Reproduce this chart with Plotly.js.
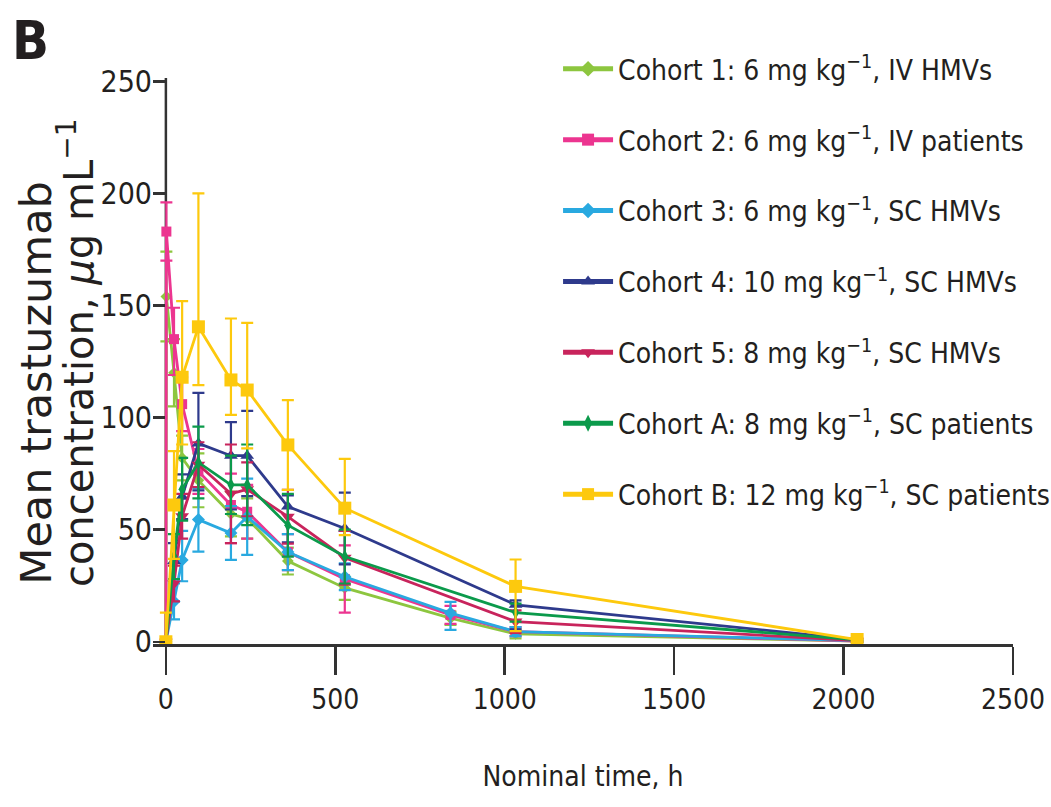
<!DOCTYPE html>
<html>
<head>
<meta charset="utf-8">
<script src="https://cdn.plot.ly/plotly-3.0.1.min.js"></script>
<style>html,body{margin:0;padding:0;background:#fff;}#chart{width:1051px;height:807px;}</style>
</head>
<body>
<div id="chart"></div>
<script>
// Nominal sampling times (h)
const timesIV = [0, 1.5, 24, 48, 96, 192, 240, 360, 528, 840, 1032, 2040];
const timesSC = [0, 24, 48, 96, 192, 240, 360, 528, 1032, 2040];
const timesC3 = [0, 24, 48, 96, 192, 240, 360, 528, 840, 1032, 2040];

// Series names
const names = [
  "Cohort 1: 6 mg kg<sup>−1</sup>, IV HMVs",
  "Cohort 2: 6 mg kg<sup>−1</sup>, IV patients",
  "Cohort 3: 6 mg kg<sup>−1</sup>, SC HMVs",
  "Cohort 4: 10 mg kg<sup>−1</sup>, SC HMVs",
  "Cohort 5: 8 mg kg<sup>−1</sup>, SC HMVs",
  "Cohort A: 8 mg kg<sup>−1</sup>, SC patients",
  "Cohort B: 12 mg kg<sup>−1</sup>, SC patients"
];

// Mean concentrations (µg/mL) and error bars (up / down)
const c1 = [0, 154, 120, 82, 72, 57, 55, 36, 24, 10.5, 3.5, 0.3];
const c1Up = [0, 20, 15, 10, 12, 10, 9, 6, 5, 3, 2, 0.3];
const c1Dn = [0, 20, 15, 10, 12, 10, 9, 6, 5.3, 3, 2, 0.3];

const c2 = [0, 183, 135, 106, 76, 61, 58, 40, 28, 12, 4.5, 0.3];
const c2Up = [0, 13, 14, 12, 10, 14, 12, 8, 15, 4, 2, 0.3];
const c2Dn = [0, 13, 16, 12, 10, 17, 12, 8, 15, 4, 2, 0.3];

const c3 = [0, 18, 36.5, 54.5, 48.5, 55.8, 40, 29, 12.8, 4.5, 0.5];
const c3Up = [0, 8, 13, 14, 12, 17, 8, 6, 5, 2, 0.3];
const c3Dn = [0, 8, 9.5, 14.3, 12, 17, 8, 6, 7.5, 2, 0.3];

const c4 = [0, 36, 64.7, 88.5, 83, 83, 60.3, 50.5, 16.5, 1];
const c4Up = [0, 8, 10, 22.5, 15, 20, 5, 16, 2, 0.3];
const c4Dn = [0, 8, 10, 21, 24, 18, 16, 16, 11, 0.3];

const c5 = [0, 26, 56, 79, 66, 68, 55.8, 37.5, 9, 0.5];
const c5Up = [0, 8, 10, 10, 22, 12, 12, 12, 5, 0.3];
const c5Dn = [0, 8, 10, 10, 22, 12, 12, 12, 5, 0.3];

const cA = [0, 38, 68, 80, 70, 70, 52, 38, 13, 0.8];
const cAUp = [0, 10, 14, 16, 13, 18, 14, 12, 4, 0.3];
const cADn = [0, 10, 14, 16, 13, 18, 14, 12, 4, 0.3];

const cB = [0, 61, 118, 140.5, 116.8, 112.3, 87.8, 59.6, 24.7, 1];
const cBUp = [13, 24, 34, 59.5, 27.4, 30, 20, 22, 12, 0];
const cBDn = [0, 24, 30, 26, 15.6, 26, 20, 12, 20, 0];

const colors = ["#8dc63f", "#ec3590", "#29a9e0", "#2e3a8c", "#c8245c", "#0b9a4b", "#fdc90d"];
const symbols = ["diamond", "square", "diamond", "triangle-up", "triangle-down", "diamond-tall", "square"];
const sizes = [9, 10, 10, 12, 12, 10, 13];

const series = [
  [timesIV, c1, c1Up, c1Dn],
  [timesIV, c2, c2Up, c2Dn],
  [timesC3, c3, c3Up, c3Dn],
  [timesSC, c4, c4Up, c4Dn],
  [timesSC, c5, c5Up, c5Dn],
  [timesSC, cA, cAUp, cADn],
  [timesSC, cB, cBUp, cBDn]
];

const narrow = '"Liberation Sans Narrow", "Arial Narrow", "DejaVu Sans Condensed", sans-serif';
const ink = "#231f20";

const traces = series.map((s, i) => ({
  type: "scatter",
  mode: "lines+markers",
  x: s[0], y: s[1],
  name: names[i],
  legendgroup: "g" + i,
  line: {color: colors[i], width: 2.8},
  marker: {color: colors[i], symbol: symbols[i], size: sizes[i]},
  error_y: {type: "data", symmetric: false, array: s[2], arrayminus: s[3],
            color: colors[i], thickness: 2.2, width: 6}
}));

const layout = {
  width: 1051, height: 807,
  margin: {l: 153, r: 38, t: 78, b: 163, autoexpand: false},
  paper_bgcolor: "#fff", plot_bgcolor: "#fff",
  showlegend: true,
  legend: {
    x: 0.471, y: 1.06, xanchor: "left", yanchor: "top",
    font: {family: narrow, size: 28, color: ink},
    bgcolor: "rgba(0,0,0,0)", itemwidth: 50, tracegroupgap: 31.5,
    traceorder: "grouped", maxheight: 700, itemsizing: "constant"
  },
  xaxis: {
    range: [-38, 2500], tickvals: [0, 500, 1000, 1500, 2000, 2500],
    showgrid: false, zeroline: false, showline: true, linecolor: "#333", linewidth: 3,
    ticks: "outside", ticklen: 28, tickwidth: 2.5, tickcolor: "#333",
    tickfont: {family: narrow, size: 28, color: ink},
    automargin: false,
    title: {text: "Nominal time, h", font: {family: narrow, size: 28, color: ink}, standoff: 52}
  },
  yaxis: {
    range: [-1, 251.5], tickvals: [0, 50, 100, 150, 200, 250],
    showgrid: false, zeroline: false, showline: false, automargin: false,
    ticks: "inside", ticklen: 12, tickwidth: 2.5, tickcolor: "#333",
    tickfont: {family: narrow, size: 30, color: ink}
  },
  shapes: [
    {type: "line", xref: "x", yref: "paper", x0: 0, x1: 0, y0: 0, y1: 1,
     line: {color: "#333", width: 2.5}, layer: "below"}
  ],
  annotations: [
    {text: "<b>B</b>", xref: "paper", yref: "paper", x: -0.143, y: 1.067,
     xanchor: "center", yanchor: "middle",
     showarrow: false, font: {family: narrow, size: 54, color: ink}},
    {text: "Mean trastuzumab", xref: "paper", yref: "paper", x: -0.137, y: 0.462,
     xanchor: "center", yanchor: "middle",
     textangle: -90, showarrow: false, font: {family: "DejaVu Sans", size: 43, color: ink}},
    {text: "concentration, <i>μ</i>g mL<sup>−1</sup>", xref: "paper", yref: "paper", x: -0.09, y: 0.515,
     xanchor: "center", yanchor: "middle",
     textangle: -90, showarrow: false, font: {family: "DejaVu Sans", size: 40, color: ink}}
  ]
};

Plotly.newPlot("chart", traces, layout, {displayModeBar: false, staticPlot: true});
</script>
</body>
</html>
